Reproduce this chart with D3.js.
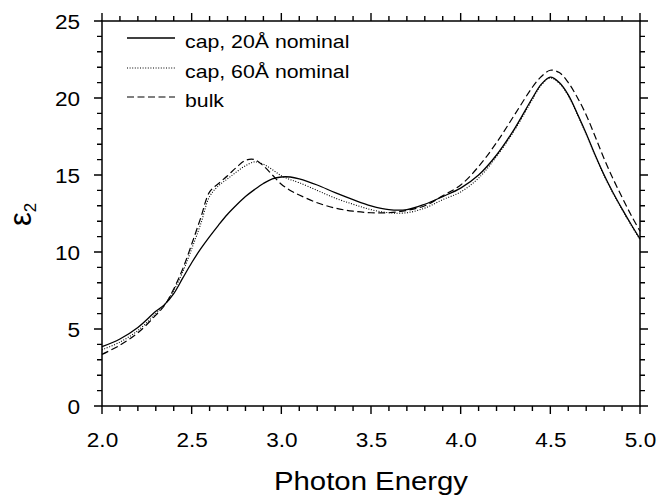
<!DOCTYPE html>
<html>
<head>
<meta charset="utf-8">
<script src="https://cdn.jsdelivr.net/npm/d3@7"></script>
<style>
  html, body { margin: 0; padding: 0; background: #fff; }
  text { font-family: "Liberation Sans", Arial, Helvetica, sans-serif; fill: #000; }
</style>
</head>
<body>
<svg id="chart" width="659" height="496"></svg>
<script>
// ---------- data ----------
const energy = [2.0, 2.1, 2.2, 2.3, 2.35, 2.4, 2.45, 2.5, 2.55, 2.6, 2.65, 2.7, 2.75, 2.8, 2.85, 2.9, 2.95,
                3.0, 3.05, 3.1, 3.2, 3.3, 3.4, 3.5, 3.6, 3.7, 3.8, 3.9, 4.0, 4.1, 4.2, 4.3, 4.4, 4.45,
                4.5, 4.55, 4.6, 4.65, 4.7, 4.75, 4.8, 4.85, 4.9, 4.95, 5.0];
const cap20 = [3.85, 4.35, 5.1, 6.15, 6.6, 7.3, 8.3, 9.3, 10.2, 11.0, 11.75, 12.45, 13.05, 13.6, 14.05, 14.45, 14.75,
               14.87, 14.87, 14.75, 14.35, 13.85, 13.4, 13.0, 12.75, 12.75, 13.1, 13.6, 14.15, 15.0, 16.3, 18.0, 20.0, 20.9,
               21.35, 21.0, 20.2, 19.0, 17.7, 16.3, 15.0, 13.85, 12.8, 11.8, 10.85];
const cap60 = [3.65, 4.15, 4.9, 6.0, 6.6, 7.5, 8.7, 10.2, 11.8, 13.6, 14.3, 14.75, 15.2, 15.6, 15.85, 15.7, 15.35,
               14.95, 14.7, 14.5, 14.0, 13.5, 13.1, 12.75, 12.55, 12.55, 12.85, 13.4, 13.9, 14.8, 16.2, 17.9, 19.9, 20.85,
               21.3, 20.95, 20.15, 18.95, 17.65, 16.25, 14.95, 13.8, 12.75, 11.75, 10.8];
const bulk  = [3.35, 3.95, 4.75, 5.9, 6.55, 7.6, 8.9, 10.5, 12.2, 13.9, 14.45, 14.95, 15.5, 15.95, 16.0, 15.6, 15.0,
               14.4, 14.0, 13.7, 13.2, 12.85, 12.65, 12.55, 12.55, 12.7, 13.0, 13.65, 14.35, 15.55, 17.1, 18.9, 20.7, 21.4,
               21.8, 21.65, 21.0, 20.05, 18.9, 17.5, 16.05, 14.75, 13.55, 12.4, 11.35];
const seriesNames = ["cap, 20Å nominal", "cap, 60Å nominal", "bulk"];
const xTickLabels = [2.0, 2.5, 3.0, 3.5, 4.0, 4.5, 5.0];
const yTickLabels = [0, 5, 10, 15, 20, 25];
const xTitle = "Photon Energy";

// ---------- layout ----------
const L = 102, R = 640, T = 21, B = 406;
const svg = d3.select("#chart");
const x = d3.scaleLinear().domain([2, 5]).range([L, R]);
const y = d3.scaleLinear().domain([0, 25]).range([B, T]);

function stretch(sel, f) {
  sel.each(function () {
    const w = this.getComputedTextLength();
    this.setAttribute("textLength", (w * f).toFixed(1));
    this.setAttribute("lengthAdjust", "spacingAndGlyphs");
  });
}

const minorX = d3.range(20, 51).map(d => d / 10);
const minorY = d3.range(0, 26);
const isMajorX = v => xTickLabels.some(m => Math.abs(m - v) < 1e-6);
const isMajorY = v => yTickLabels.includes(v);

// tick marks (outward on all four sides)
let tp = "";
minorX.forEach(v => {
  const len = isMajorX(v) ? 8 : 5;
  const px = x(v);
  tp += `M${px},${B}V${B + len}M${px},${T}V${T - len}`;
});
minorY.forEach(v => {
  const len = isMajorY(v) ? 8 : 5;
  const py = y(v);
  tp += `M${L},${py}H${L - len}M${R},${py}H${R + len}`;
});
svg.append("path").attr("d", tp).attr("fill", "none").attr("stroke", "#000").attr("stroke-width", 1.4);

// tick labels via d3 axes
const bx = svg.append("g").attr("transform", `translate(0,${B})`)
  .call(d3.axisBottom(x).tickValues(xTickLabels).tickSize(0).tickFormat(d3.format(".1f")));
bx.select(".domain").remove();
bx.selectAll("text").attr("font-size", 20).attr("font-family", "Liberation Sans, Arial, sans-serif")
  .attr("y", 41).attr("dy", 0).call(stretch, 1.13);

const ly = svg.append("g").attr("transform", `translate(${L},0)`)
  .call(d3.axisLeft(y).tickValues(yTickLabels).tickSize(0).tickPadding(22).tickFormat(d3.format("d")));
ly.select(".domain").remove();
ly.selectAll("text").attr("font-size", 20).attr("font-family", "Liberation Sans, Arial, sans-serif")
  .attr("dy", "0.36em").call(stretch, 1.13);

// frame
svg.append("rect").attr("x", L).attr("y", T).attr("width", R - L).attr("height", B - T)
  .attr("fill", "none").attr("stroke", "#000").attr("stroke-width", 1.5);

// ---------- curves ----------
const styles = [
  { data: cap20, dash: null, width: 1.3 },
  { data: cap60, dash: "1,1.6", width: 1.1 },
  { data: bulk,  dash: "7,3.5", width: 1.2 }
];
const line = d3.line().x(d => x(d[0])).y(d => y(d[1])).curve(d3.curveCatmullRom.alpha(0.5));
styles.forEach(s => {
  svg.append("path")
    .datum(energy.map((e, i) => [e, s.data[i]]))
    .attr("d", line)
    .attr("fill", "none").attr("stroke", "#000")
    .attr("stroke-width", s.width)
    .attr("stroke-dasharray", s.dash);
});

// ---------- legend ----------
const legY = [38, 68, 97];
seriesNames.forEach((name, i) => {
  svg.append("line").attr("x1", 127).attr("x2", 175).attr("y1", legY[i]).attr("y2", legY[i])
    .attr("stroke", "#000").attr("stroke-width", styles[i].width)
    .attr("stroke-dasharray", styles[i].dash);
  svg.append("text").attr("x", 185).attr("y", legY[i] + 10).attr("font-size", 18.5)
    .text(name).call(stretch, 1.15);
});

// ---------- titles ----------
svg.append("text").attr("x", (L + R) / 2).attr("y", 490).attr("text-anchor", "middle")
  .attr("font-size", 25.5).text(xTitle).call(stretch, 1.15);

const yl = svg.append("text").attr("transform", "translate(31,226) rotate(-90)");
yl.append("tspan").attr("font-size", 31).text("ε");
yl.append("tspan").attr("font-size", 17).attr("dy", 5).text("2");
</script>
</body>
</html>
